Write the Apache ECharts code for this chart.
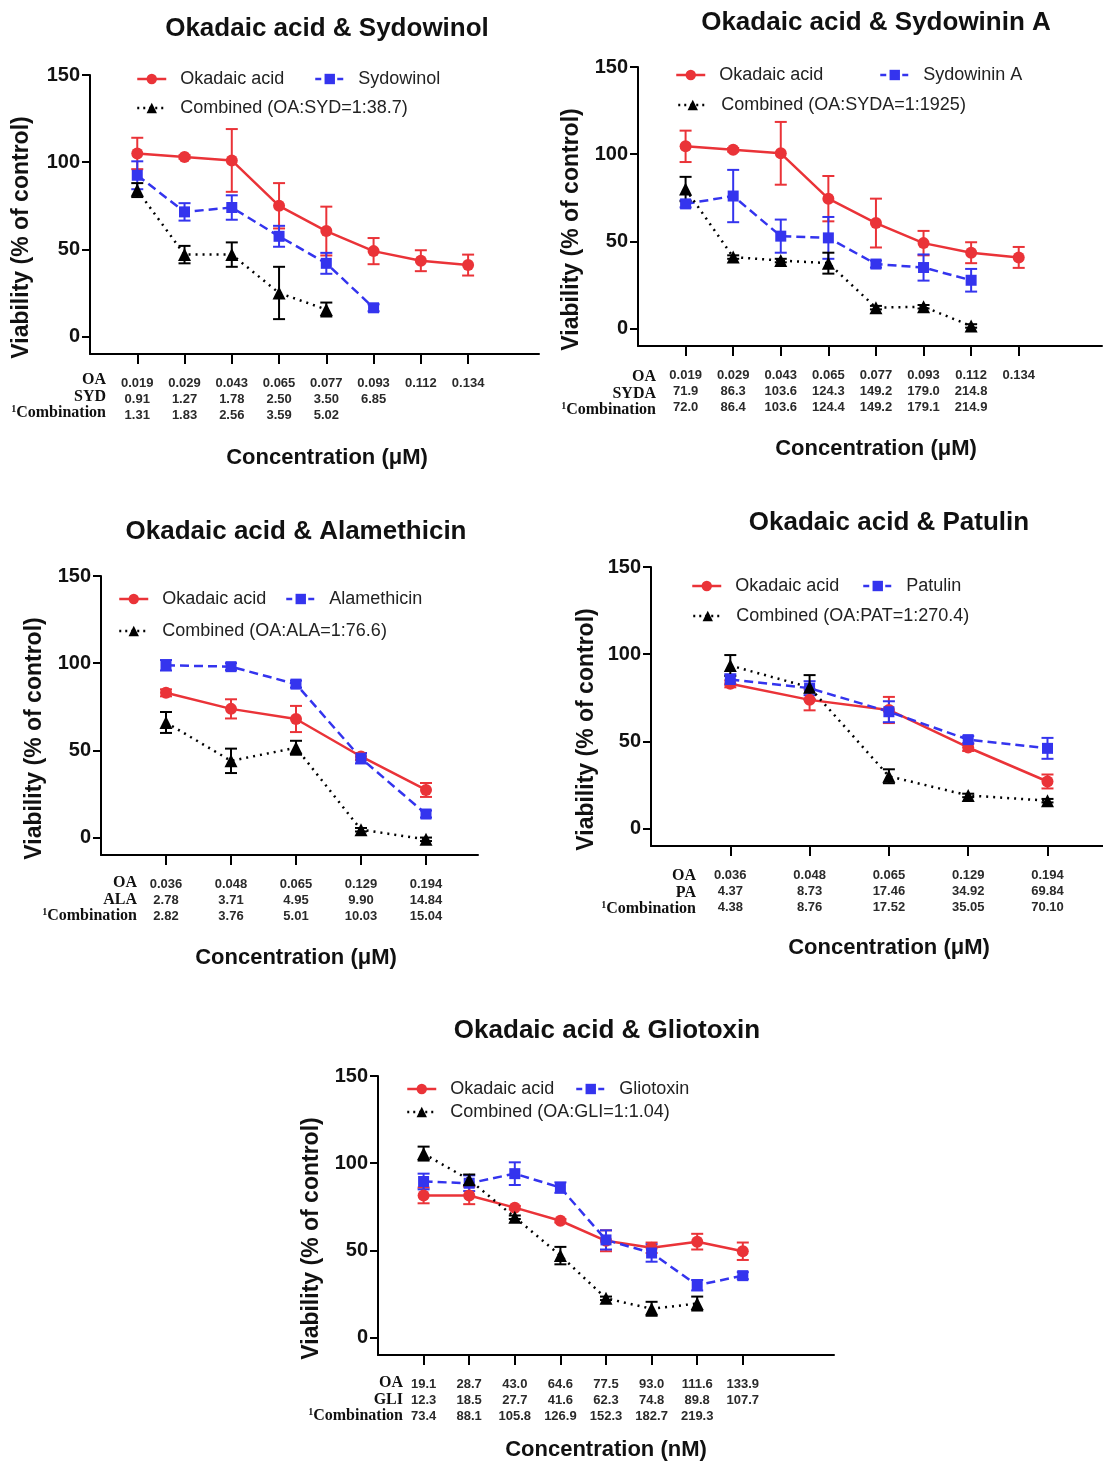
<!DOCTYPE html>
<html><head><meta charset="utf-8">
<script src="https://cdn.jsdelivr.net/npm/echarts@6/dist/echarts.min.js"></script>
<style>html,body{margin:0;padding:0;background:#fff}#c{width:1103px;height:1464px}</style>
</head><body><div id="c"></div><script>
// ---------------- DATA ----------------
// Panel 1: Okadaic acid & Sydowinol
const p1OA = ['0.019','0.029','0.043','0.065','0.077','0.093','0.112','0.134'];
const p1SYD = ['0.91','1.27','1.78','2.50','3.50','6.85'];
const p1Comb = ['1.31','1.83','2.56','3.59','5.02'];
const p1OAVal = [105, 103, 101, 75, 60.5, 49, 43.5, 41];
const p1OAErr = [9, 1, 18, 13, 14, 7.5, 6, 6];
const p1DrugVal = [92.5, 71.5, 74, 57.5, 42, 16.5];
const p1DrugErr = [8, 5, 7, 6, 6, 2];
const p1CombVal = [84, 47, 47, 25, 15.5];
const p1CombErr = [4, 5, 7, 15, 4];

// Panel 2: Okadaic acid & Sydowinin A
const p2OA = ['0.019','0.029','0.043','0.065','0.077','0.093','0.112','0.134'];
const p2SYDA = ['71.9','86.3','103.6','124.3','149.2','179.0','214.8'];
const p2Comb = ['72.0','86.4','103.6','124.4','149.2','179.1','214.9'];
const p2OAVal = [104.5, 102.5, 100.5, 74.5, 60.5, 49, 43.5, 40.8];
const p2OAErr = [9, 1, 18, 13, 14, 7, 6, 6];
const p2DrugVal = [71.5, 76, 53, 52, 37, 35, 27.7];
const p2DrugErr = [2, 15, 9.5, 12, 2, 7.5, 6.5];
const p2CombVal = [80, 41, 39, 37.5, 12, 12.5, 1.5];
const p2CombErr = [7, 1, 1, 6, 1, 1, 1];

// Panel 3: Okadaic acid & Alamethicin
const p3OA = ['0.036','0.048','0.065','0.129','0.194'];
const p3ALA = ['2.78','3.71','4.95','9.90','14.84'];
const p3Comb = ['2.82','3.76','5.01','10.03','15.04'];
const p3OAVal = [83, 73.8, 68, 46.5, 27.3];
const p3OAErr = [2, 5.5, 7.5, 2, 4];
const p3DrugVal = [98.8, 98, 88, 45.5, 13.5];
const p3DrugErr = [3, 2, 2, 3, 2];
const p3CombVal = [66, 44, 51.5, 4.5, -1];
const p3CombErr = [6, 7, 4, 1, 1];

// Panel 4: Okadaic acid & Patulin
const p4OA = ['0.036','0.048','0.065','0.129','0.194'];
const p4PA = ['4.37','8.73','17.46','34.92','69.84'];
const p4Comb = ['4.38','8.76','17.52','35.05','70.10'];
const p4OAVal = [83, 73.8, 68, 46.5, 27];
const p4OAErr = [2, 6, 7.5, 2, 4];
const p4DrugVal = [85.5, 80.5, 67, 51, 46];
const p4DrugErr = [3, 4, 6, 2, 6];
const p4CombVal = [93.5, 81, 30, 19, 16];
const p4CombErr = [6, 7, 4, 1, 1];

// Panel 5: Okadaic acid & Gliotoxin
const p5OA = ['19.1','28.7','43.0','64.6','77.5','93.0','111.6','133.9'];
const p5GLI = ['12.3','18.5','27.7','41.6','62.3','74.8','89.8','107.7'];
const p5Comb = ['73.4','88.1','105.8','126.9','152.3','182.7','219.3'];
const p5OAVal = [81.5, 81.5, 74.5, 67, 55.5, 51.5, 55, 49.5];
const p5OAErr = [4.5, 5, 1, 1, 6, 3, 4.5, 5];
const p5DrugVal = [89.5, 88.5, 94, 86, 56, 48.5, 30, 35.5];
const p5DrugErr = [4.5, 4.5, 6.5, 3, 5.5, 5, 3, 2];
const p5CombVal = [105.5, 90.5, 69, 47, 22.5, 16.5, 19.5];
const p5CombErr = [4, 3, 1, 5, 1, 4, 4];

const yTicks = [0, 50, 100, 150];

// ---------------- PANELS (text + layout) ----------------
const panels = [
  {title:'Okadaic acid & Sydowinol', drug:'Sydowinol', comb:'Combined (OA:SYD=1:38.7)',
   rowNames:['OA','SYD'], rows:[p1OA,p1SYD,p1Comb], unit:'Concentration (\u03BCM)',
   oa:[p1OAVal,p1OAErr], dr:[p1DrugVal,p1DrugErr], cb:[p1CombVal,p1CombErr],
   L:{left:90,width:449,top:75,xmax:8.5, tx:327,ty:16, yGap:57, xGap:93, xPad:25,
      hx:106,hy:371.75, lg:[[136,70],[314,70],[136,99]]}},
  {title:'Okadaic acid & Sydowinin A', drug:'Sydowinin A', comb:'Combined (OA:SYDA=1:1925)',
   rowNames:['OA','SYDA'], rows:[p2OA,p2SYDA,p2Comb], unit:'Concentration (\u03BCM)',
   oa:[p2OAVal,p2OAErr], dr:[p2DrugVal,p2DrugErr], cb:[p2CombVal,p2CombErr],
   L:{left:638,width:464,top:67,xmax:8.75, tx:876,ty:10, yGap:55, xGap:92, xPad:12,
      hx:656,hy:368.75, lg:[[675,66],[879,66],[677,96]]}},
  {title:'Okadaic acid & Alamethicin', drug:'Alamethicin', comb:'Combined (OA:ALA=1:76.6)',
   rowNames:['OA','ALA'], rows:[p3OA,p3ALA,p3Comb], unit:'Concentration (\u03BCM)',
   oa:[p3OAVal,p3OAErr], dr:[p3DrugVal,p3DrugErr], cb:[p3CombVal,p3CombErr],
   L:{left:101,width:377,top:576,xmax:4.8, tx:296,ty:519, yGap:55, xGap:92, xPad:13,
      hx:137,hy:874.75, lg:[[118,590],[285,590],[118,622]]}},
  {title:'Okadaic acid & Patulin', drug:'Patulin', comb:'Combined (OA:PAT=1:270.4)',
   rowNames:['OA','PA'], rows:[p4OA,p4PA,p4Comb], unit:'Concentration (\u03BCM)',
   oa:[p4OAVal,p4OAErr], dr:[p4DrugVal,p4DrugErr], cb:[p4CombVal,p4CombErr],
   L:{left:651,width:452,top:567,xmax:4.7, tx:889,ty:510, yGap:53, xGap:91, xPad:24,
      hx:696,hy:867.75, lg:[[691,577],[862,577],[692,607]]}},
  {title:'Okadaic acid & Gliotoxin', drug:'Gliotoxin', comb:'Combined (OA:GLI=1:1.04)',
   rowNames:['OA','GLI'], rows:[p5OA,p5GLI,p5Comb], unit:'Concentration (nM)',
   oa:[p5OAVal,p5OAErr], dr:[p5DrugVal,p5DrugErr], cb:[p5CombVal,p5CombErr],
   L:{left:378,width:456,top:1076,xmax:9, tx:607,ty:1018, yGap:55, xGap:84, xPad:0,
      hx:403,hy:1374.75, lg:[[406,1080],[575,1080],[406,1103]]}}
];

const RED = '#ea3338', BLUE = '#3434ee', BLACK = '#000000';
const SANS = '"Liberation Sans", Arial, sans-serif';
const SERIF = '"Liberation Serif", "Times New Roman", serif';
const PLOT_H = 279;

function errRender(color){
  return function(params, api){
    const x = api.value(0), v = api.value(1), e = api.value(2);
    if (!e) return null;
    const t = api.coord([x, v + e]), b = api.coord([x, v - e]);
    const hw = 6, st = {stroke: color, lineWidth: 2};
    return {type:'group', children:[
      {type:'line', shape:{x1:t[0],y1:t[1],x2:b[0],y2:b[1]}, style:st},
      {type:'line', shape:{x1:t[0]-hw,y1:t[1],x2:t[0]+hw,y2:t[1]}, style:st},
      {type:'line', shape:{x1:b[0]-hw,y1:b[1],x2:b[0]+hw,y2:b[1]}, style:st}
    ]};
  };
}

const option = {animation:false, backgroundColor:'#fff', title:[], grid:[], xAxis:[], yAxis:[], legend:[], series:[], graphic:[]};

panels.forEach((p, k) => {
  const L = p.L;
  const n = p.rows[0].length;
  const idx = Array.from({length:n}, (_, i) => i);
  option.title.push({text:p.title, left:L.tx, top:L.ty, textAlign:'center', padding:0,
    textStyle:{fontSize:26, fontWeight:'bold', color:'#111', fontFamily:SANS}});
  option.grid.push({left:L.left, top:L.top, width:L.width, height:PLOT_H, outerBoundsMode:'none', containLabel:false});
  const axLine = {color:'#000', width:2};
  option.xAxis.push({type:'value', gridIndex:k, min:-1, max:L.xmax,
    axisLine:{show:true, onZero:false, lineStyle:axLine},
    axisTick:{show:true, length:10, customValues:idx, lineStyle:axLine},
    axisLabel:{show:true, customValues:idx, margin:21, fontSize:13, fontWeight:'bold', lineHeight:16,
      color:'#2a2a2a', fontFamily:SANS,
      formatter:(v) => { const i = Math.round(v); return p.rows.map(r => r[i] || '').join('\n'); }},
    splitLine:{show:false},
    name:p.unit, nameLocation:'middle', nameGap:L.xGap,
    nameTextStyle:{fontSize:22, fontWeight:'bold', color:'#111', fontFamily:SANS, padding:[0,0,0,L.xPad]}});
  option.yAxis.push({type:'value', gridIndex:k, min:-10, max:150,
    axisLine:{show:true, onZero:false, lineStyle:axLine},
    axisTick:{show:true, length:8, customValues:yTicks, lineStyle:axLine},
    axisLabel:{show:true, customValues:yTicks, margin:10, fontSize:20, fontWeight:'bold', color:'#111', fontFamily:SANS},
    splitLine:{show:false},
    name:'Viability (% of control)', nameLocation:'middle', nameGap:L.yGap, nameRotate:90,
    nameTextStyle:{fontSize:23, fontWeight:'bold', color:'#111', fontFamily:SANS, padding:[0,46,0,0]}});

  const defs = [
    {name:'Okadaic acid', d:p.oa, color:RED, symbol:'circle', size:12, type:'solid', lg:'solid'},
    {name:p.drug, d:p.dr, color:BLUE, symbol:'rect', size:11, type:[9,5], lg:[6,5]},
    {name:p.comb, d:p.cb, color:BLACK, symbol:'triangle', size:13, type:[2,5], lg:[2,4]}
  ];
  defs.forEach((s, j) => {
    const vals = s.d[0], errs = s.d[1];
    option.series.push({type:'custom', name:'err'+k+'_'+j, xAxisIndex:k, yAxisIndex:k, z:2,
      renderItem:errRender(s.color), encode:{x:0, y:1},
      data:vals.map((v, i) => [i, v, errs[i]]), silent:true});
    option.series.push({type:'line', name:s.name, xAxisIndex:k, yAxisIndex:k, z:3,
      symbol:s.symbol, symbolSize:s.size, showAllSymbol:true,
      itemStyle:{color:s.color}, lineStyle:{color:s.color, width:2.5, type:s.type},
      data:vals.map((v, i) => [i, v])});
    option.legend.push({data:[s.name], left:L.lg[j][0], top:L.lg[j][1], padding:0,
      itemWidth:29, itemHeight:13, selectedMode:false,
      lineStyle:{type:s.lg, width:2.5, color:s.color},
      textStyle:{fontSize:18, color:'#222', fontFamily:SANS, padding:[0,0,0,9]}});
  });

  option.graphic.push({type:'text', x:L.hx, y:L.hy, silent:true,
    style:{text:p.rowNames.join('\n') + '\n{sup|1}Combination', align:'right', textAlign:'right',
      verticalAlign:'top', textVerticalAlign:'top',
      fontSize:16, fontWeight:'bold', fontFamily:SERIF, lineHeight:16.5, fill:'#111',
      rich:{sup:{fontSize:10, fontWeight:'bold', fontFamily:SERIF, verticalAlign:'top', lineHeight:16.5, fill:'#111', padding:[0,0,6,0]}}}});
});

const chart = echarts.init(document.getElementById('c'), null, {renderer:'canvas'});
chart.setOption(option);
</script></body></html>
